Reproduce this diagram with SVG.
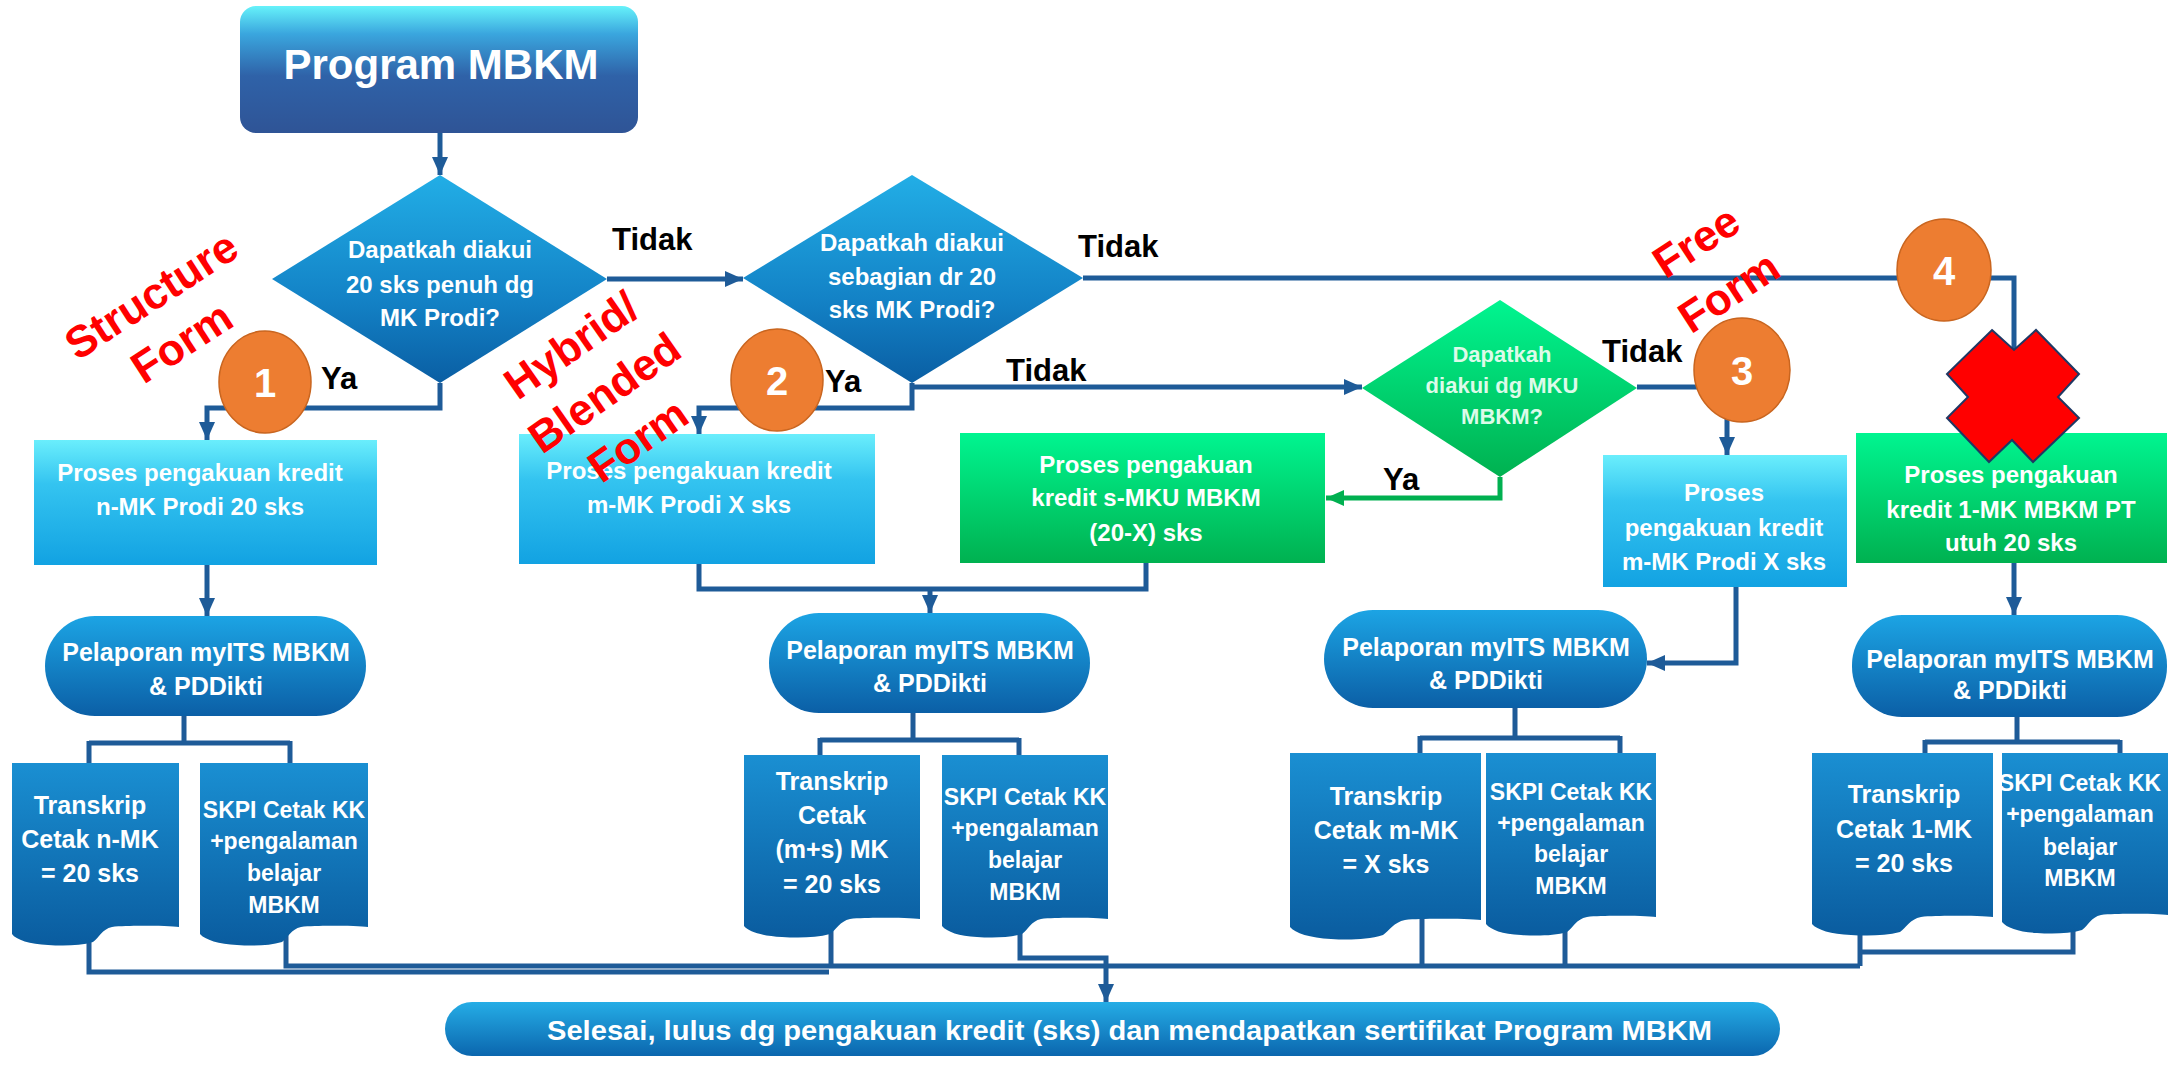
<svg xmlns="http://www.w3.org/2000/svg" width="2178" height="1076" viewBox="0 0 2178 1076">
<defs>
<linearGradient id="gProg" x1="0" y1="0" x2="0" y2="1">
<stop offset="0" stop-color="#66f2fa"/><stop offset="0.22" stop-color="#3aa6de"/><stop offset="0.55" stop-color="#2f62a8"/><stop offset="1" stop-color="#2f5496"/>
</linearGradient>
<linearGradient id="gDia" x1="0" y1="0" x2="0" y2="1">
<stop offset="0" stop-color="#22aee6"/><stop offset="0.6" stop-color="#1382c6"/><stop offset="1" stop-color="#0a5ea3"/>
</linearGradient>
<linearGradient id="gLight" x1="0" y1="0" x2="0" y2="1">
<stop offset="0" stop-color="#6aeefc"/><stop offset="0.35" stop-color="#34c4f0"/><stop offset="1" stop-color="#12a2e2"/>
</linearGradient>
<linearGradient id="gGreen" x1="0" y1="0" x2="0" y2="1">
<stop offset="0" stop-color="#00f590"/><stop offset="1" stop-color="#00b150"/>
</linearGradient>
<linearGradient id="gPel" x1="0" y1="0" x2="0" y2="1">
<stop offset="0" stop-color="#1ca4e4"/><stop offset="1" stop-color="#0b5fa6"/>
</linearGradient>
<linearGradient id="gDoc" x1="0" y1="0" x2="0" y2="1">
<stop offset="0" stop-color="#1a8fd2"/><stop offset="1" stop-color="#0a5c9f"/>
</linearGradient>
<linearGradient id="gEnd" x1="0" y1="0" x2="0" y2="1">
<stop offset="0" stop-color="#25ade6"/><stop offset="1" stop-color="#0b66ae"/>
</linearGradient>
<marker id="ah" markerWidth="18" markerHeight="16" refX="18" refY="8" orient="auto" markerUnits="userSpaceOnUse">
<path d="M0,0 L18,8 L0,16 Z" fill="#1e5b98"/>
</marker>
<marker id="ahg" markerWidth="18" markerHeight="16" refX="18" refY="8" orient="auto" markerUnits="userSpaceOnUse">
<path d="M0,0 L18,8 L0,16 Z" fill="#00b050"/>
</marker>
</defs>
<style>
.ln{fill:none;stroke:#1e5b98;stroke-width:5;stroke-linejoin:miter}
.lg{fill:none;stroke:#00b050;stroke-width:5}
.t{font-family:"Liberation Sans",Arial,sans-serif;font-weight:bold;fill:#ffffff;text-anchor:middle}
.bx{font-size:24px}
.pl{font-size:25px}
.dc{font-size:23px}
.dt{font-size:25px}
.dm{font-size:24px}
.d3{font-size:22px;fill:#dcfbe9}
.lab{font-family:"Liberation Sans",Arial,sans-serif;font-weight:bold;fill:#000000;font-size:31px}
.red{font-family:"Liberation Sans",Arial,sans-serif;font-weight:bold;fill:#ff0000;font-size:44px;text-anchor:middle}
.circ{fill:#ed7d31;stroke:#c9651f;stroke-width:1.5}
.num{font-family:"Liberation Sans",Arial,sans-serif;font-weight:bold;fill:#ffffff;font-size:40px;text-anchor:middle}
</style>
<rect width="2178" height="1076" fill="#ffffff"/>

<g id="connectors">
<path class="ln" d="M440,133 V175" marker-end="url(#ah)"/>
<path class="ln" d="M607,279 H743" marker-end="url(#ah)"/>
<path class="ln" d="M440,383 V408 H207 V440" marker-end="url(#ah)"/>
<path class="ln" d="M912,383 V408 H699 V434" marker-end="url(#ah)"/>
<path class="ln" d="M914,387 H1362" marker-end="url(#ah)"/>
<path class="ln" d="M1083,278 H2014 V433" marker-end="url(#ah)"/>
<path class="ln" d="M1637,387 H1727 V455" marker-end="url(#ah)"/>
<path class="lg" d="M1500,477 V498 H1326" marker-end="url(#ahg)"/>
<path class="ln" d="M207,565 V616" marker-end="url(#ah)"/>
<path class="ln" d="M699,564 V589 H930 M1146,563 V589 H930"/>
<path class="ln" d="M930,589 V613" marker-end="url(#ah)"/>
<path class="ln" d="M1736,587 V663 H1647" marker-end="url(#ah)"/>
<path class="ln" d="M2014,563 V615" marker-end="url(#ah)"/>
<path class="ln" d="M184,716 V743 M89,743 H290 M89,741 V765 M290,741 V765"/>
<path class="ln" d="M913,713 V740 M820,740 H1019 M820,738 V757 M1019,738 V757"/>
<path class="ln" d="M1515,708 V738 M1420,738 H1620 M1420,736 V755 M1620,736 V755"/>
<path class="ln" d="M2017,717 V742 M1925,742 H2120 M1925,740 V755 M2120,740 V755"/>
<path class="ln" d="M89,920 V972 H829"/>
<path class="ln" d="M286,920 V966 H1860"/>
<path class="ln" d="M831,915 V966"/>
<path class="ln" d="M1020,915 V958 H1106 V1002" marker-end="url(#ah)"/>
<path class="ln" d="M1422,915 V966"/>
<path class="ln" d="M1565,915 V966"/>
<path class="ln" d="M1860,915 V966"/>
<path class="ln" d="M2073,915 V952 H1860"/>
</g>

<g id="labels">
<text class="lab" x="612" y="250">Tidak</text>
<text class="lab" x="1078" y="257">Tidak</text>
<text class="lab" x="1006" y="381">Tidak</text>
<text class="lab" x="1602" y="362">Tidak</text>
<text class="lab" x="321" y="389">Ya</text>
<text class="lab" x="825" y="392">Ya</text>
<text class="lab" x="1383" y="490">Ya</text>
</g>

<g id="n-program">
<rect x="240" y="6" width="398" height="127" rx="16" fill="url(#gProg)"/>
<text class="t" x="441" y="79" font-size="42">Program MBKM</text>
</g>

<g id="n-d1">
<polygon points="440,175 607,279 440,383 272,279" fill="url(#gDia)"/>
<text class="t dm" x="440" y="258">Dapatkah diakui</text>
<text class="t dm" x="440" y="293">20 sks penuh dg</text>
<text class="t dm" x="440" y="326">MK Prodi?</text>
</g>

<g id="n-d2">
<polygon points="912,175 1083,278 912,383 743,278" fill="url(#gDia)"/>
<text class="t dm" x="912" y="251">Dapatkah diakui</text>
<text class="t dm" x="912" y="285">sebagian dr 20</text>
<text class="t dm" x="912" y="318">sks MK Prodi?</text>
</g>

<g id="n-d3">
<polygon points="1500,300 1637,388 1500,477 1362,388" fill="url(#gGreen)"/>
<text class="t d3" x="1502" y="362">Dapatkah</text>
<text class="t d3" x="1502" y="393">diakui dg MKU</text>
<text class="t d3" x="1502" y="424">MBKM?</text>
</g>

<g id="n-box1">
<rect x="34" y="440" width="343" height="125" fill="url(#gLight)"/>
<text class="t bx" x="200" y="481">Proses pengakuan kredit</text>
<text class="t bx" x="200" y="515">n-MK Prodi 20 sks</text>
</g>

<g id="n-box2">
<rect x="519" y="434" width="356" height="130" fill="url(#gLight)"/>
<text class="t bx" x="689" y="479">Proses pengakuan kredit</text>
<text class="t bx" x="689" y="513">m-MK Prodi X sks</text>
</g>

<g id="n-smku">
<rect x="960" y="433" width="365" height="130" fill="url(#gGreen)"/>
<text class="t bx" x="1146" y="473">Proses pengakuan</text>
<text class="t bx" x="1146" y="506">kredit s-MKU MBKM</text>
<text class="t bx" x="1146" y="541">(20-X) sks</text>
</g>

<g id="n-box3">
<rect x="1603" y="455" width="244" height="132" fill="url(#gLight)"/>
<text class="t bx" x="1724" y="501">Proses</text>
<text class="t bx" x="1724" y="536">pengakuan kredit</text>
<text class="t bx" x="1724" y="570">m-MK Prodi X sks</text>
</g>

<g id="n-box4">
<rect x="1856" y="433" width="311" height="130" fill="url(#gGreen)"/>
<text class="t bx" x="2011" y="483">Proses pengakuan</text>
<text class="t bx" x="2011" y="518">kredit 1-MK MBKM PT</text>
<text class="t bx" x="2011" y="551">utuh 20 sks</text>
</g>

<g id="n-pel1">
<rect x="45" y="616" width="321" height="100" rx="50" fill="url(#gPel)"/>
<text class="t pl" x="206" y="661">Pelaporan myITS MBKM</text>
<text class="t pl" x="206" y="695">&amp; PDDikti</text>
</g>
<g id="n-pel2">
<rect x="769" y="613" width="321" height="100" rx="50" fill="url(#gPel)"/>
<text class="t pl" x="930" y="659">Pelaporan myITS MBKM</text>
<text class="t pl" x="930" y="692">&amp; PDDikti</text>
</g>
<g id="n-pel3">
<rect x="1324" y="610" width="323" height="98" rx="49" fill="url(#gPel)"/>
<text class="t pl" x="1486" y="656">Pelaporan myITS MBKM</text>
<text class="t pl" x="1486" y="689">&amp; PDDikti</text>
</g>
<g id="n-pel4">
<rect x="1852" y="615" width="315" height="102" rx="50" fill="url(#gPel)"/>
<text class="t pl" x="2010" y="668">Pelaporan myITS MBKM</text>
<text class="t pl" x="2010" y="699">&amp; PDDikti</text>
</g>

<g id="n-t1">
<path d="M12,763 H179 V927 C169,926 130,925 112,927 C102,929 99,938 93,942 C80,946 62,946 48,945 C30,944 16,940 12,934 Z" fill="url(#gDoc)"/>
<text class="t dt" x="90" y="814">Transkrip</text>
<text class="t dt" x="90" y="848">Cetak n-MK</text>
<text class="t dt" x="90" y="882">= 20 sks</text>
</g>
<g id="n-s1">
<path d="M200,763 H368 V927 C358,926 319,925 301,927 C291,929 288,938 282,942 C269,946 251,946 237,945 C219,944 205,940 200,934 Z" fill="url(#gDoc)"/>
<text class="t dc" x="284" y="818">SKPI Cetak KK</text>
<text class="t dc" x="284" y="849">+pengalaman</text>
<text class="t dc" x="284" y="881">belajar</text>
<text class="t dc" x="284" y="913">MBKM</text>
</g>

<g id="n-t2">
<path d="M744,755 H920 V919 C909,918 869,917 850,919 C840,921 836,930 830,934 C816,938 797,938 782,937 C763,936 749,932 744,926 Z" fill="url(#gDoc)"/>
<text class="t dt" x="832" y="790">Transkrip</text>
<text class="t dt" x="832" y="824">Cetak</text>
<text class="t dt" x="832" y="858">(m+s) MK</text>
<text class="t dt" x="832" y="893">= 20 sks</text>
</g>
<g id="n-s2">
<path d="M942,755 H1108 V919 C1098,918 1059,917 1041,919 C1031,921 1028,930 1022,934 C1009,938 991,938 977,937 C959,936 947,932 942,926 Z" fill="url(#gDoc)"/>
<text class="t dc" x="1025" y="805">SKPI Cetak KK</text>
<text class="t dc" x="1025" y="836">+pengalaman</text>
<text class="t dc" x="1025" y="868">belajar</text>
<text class="t dc" x="1025" y="900">MBKM</text>
</g>

<g id="n-t3">
<path d="M1290,753 H1481 V920 C1469,919 1425,918 1405,920 C1394,922 1389,931 1383,935 C1367,940 1347,940 1331,939 C1310,938 1295,933 1290,927 Z" fill="url(#gDoc)"/>
<text class="t dt" x="1386" y="805">Transkrip</text>
<text class="t dt" x="1386" y="839">Cetak m-MK</text>
<text class="t dt" x="1386" y="873">= X sks</text>
</g>
<g id="n-s3">
<path d="M1486,753 H1656 V917 C1645,916 1605,915 1587,917 C1576,919 1573,928 1567,932 C1554,936 1535,936 1521,935 C1502,934 1491,930 1486,924 Z" fill="url(#gDoc)"/>
<text class="t dc" x="1571" y="800">SKPI Cetak KK</text>
<text class="t dc" x="1571" y="831">+pengalaman</text>
<text class="t dc" x="1571" y="862">belajar</text>
<text class="t dc" x="1571" y="894">MBKM</text>
</g>

<g id="n-t4">
<path d="M1812,753 H1993 V917 C1982,916 1940,915 1921,917 C1910,919 1906,928 1900,932 C1885,936 1866,936 1851,935 C1831,934 1817,930 1812,924 Z" fill="url(#gDoc)"/>
<text class="t dt" x="1904" y="803">Transkrip</text>
<text class="t dt" x="1904" y="838">Cetak 1-MK</text>
<text class="t dt" x="1904" y="872">= 20 sks</text>
</g>
<g id="n-s4">
<path d="M2002,753 H2168 V915 C2158,914 2119,913 2101,915 C2091,917 2088,926 2082,930 C2069,934 2051,934 2037,933 C2019,932 2007,928 2002,922 Z" fill="url(#gDoc)"/>
<text class="t dc" x="2080" y="791">SKPI Cetak KK</text>
<text class="t dc" x="2080" y="822">+pengalaman</text>
<text class="t dc" x="2080" y="855">belajar</text>
<text class="t dc" x="2080" y="886">MBKM</text>
</g>

<g id="n-end">
<rect x="445" y="1002" width="1335" height="54" rx="27" fill="url(#gEnd)"/>
<text x="547" y="1040" font-family="Liberation Sans, Arial, sans-serif" font-weight="bold" font-size="27" fill="#ffffff" textLength="1165" lengthAdjust="spacingAndGlyphs">Selesai, lulus dg pengakuan kredit (sks) dan mendapatkan sertifikat Program MBKM</text>
</g>

<g id="n-c1"><ellipse class="circ" cx="265" cy="382" rx="46" ry="51"/><text class="num" x="265" y="397">1</text></g>
<g id="n-c2"><ellipse class="circ" cx="777" cy="380" rx="46" ry="51"/><text class="num" x="777" y="395">2</text></g>
<g id="n-c3"><ellipse class="circ" cx="1742" cy="370" rx="48" ry="52"/><text class="num" x="1742" y="385">3</text></g>
<g id="n-c4"><ellipse class="circ" cx="1944" cy="270" rx="47" ry="51"/><text class="num" x="1944" y="285">4</text></g>

<g id="annotations">
<g transform="translate(166,318) rotate(-33)">
<text class="red" x="0" y="-12" font-size="46">Structure</text>
<text class="red" x="0" y="44">Form</text>
</g>
<g transform="translate(604,392) rotate(-35)">
<text class="red" x="0" y="-42">Hybrid/</text>
<text class="red" x="0" y="16">Blended</text>
<text class="red" x="0" y="74">Form</text>
</g>
<g transform="translate(1712,266) rotate(-33)">
<text class="red" x="0" y="-14">Free</text>
<text class="red" x="0" y="46">Form</text>
</g>
</g>

<g id="cross">
<polygon points="1992,330 2014,350 2036,330 2079,374 2058,397 2079,418 2033,462 2012,440 1989,462 1947,418 1968,397 1947,374" fill="#ff0000" stroke="#1f3864" stroke-width="2"/>
</g>
</svg>
